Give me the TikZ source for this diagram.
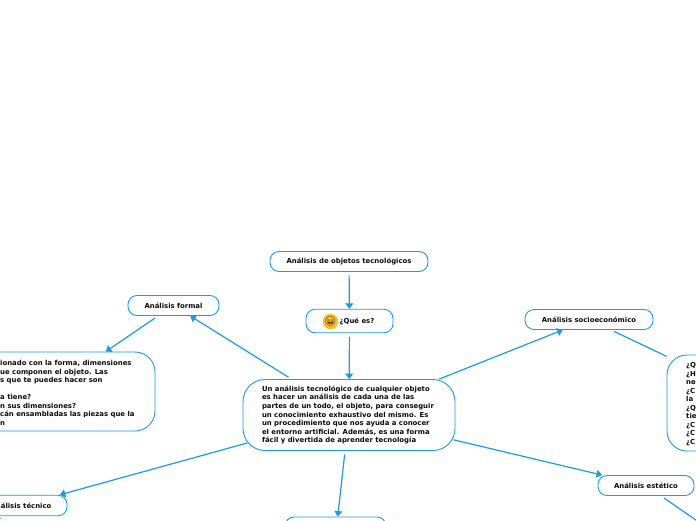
\documentclass[tikz,border=0pt]{standalone}
\usepackage{fontspec}
\setmainfont{DejaVu Sans}
\newfontfamily\emojifont{Noto Emoji}
\usetikzlibrary{arrows.meta}
\definecolor{mapblue}{HTML}{1C9BE2}
\definecolor{maptext}{HTML}{0A0A0A}
\definecolor{emojiyellow}{HTML}{FBBF2D}
\tikzset{
  x=1pt,y=-1pt,
  mapbox/.style={draw=mapblue,line width=0.9pt,fill=white,rounded corners=#1,inner sep=0pt,text=maptext,font=\fontsize{6.9}{8.5}\selectfont\bfseries,align=center},
  mapbox/.default=9pt,
  maptxt/.style={inner sep=0pt,text=maptext,font=\fontsize{6.9}{8.5}\selectfont\bfseries,align=left},
  link/.style={draw=mapblue,line width=1.2pt,shorten <=3.5pt,-{Triangle[length=5.5pt,width=8pt]}},
  plainlink/.style={draw=mapblue,line width=1.2pt,shorten <=3.5pt}
}
\begin{document}
\begin{tikzpicture}
\useasboundingbox (0,0) rectangle (696,520);
\clip (0,0) rectangle (696,520);
\fill[white] (0,0) rectangle (696,520);
\node[mapbox,minimum width=158pt,minimum height=20pt] (top) at (349,261.5) {Análisis de objetos tecnológicos};
\node[mapbox,minimum width=87pt,minimum height=23.5pt] (que) at (349.5,321) {\hspace*{15pt}¿Qué es?};
\node[circle,fill=emojiyellow,inner sep=0pt,minimum size=12pt,text=maptext,font=\emojifont\fontsize{9.5}{9.5}\selectfont] (emo) at (330.5,321.5) {😆};
\node[mapbox=22pt,minimum width=212pt,minimum height=71pt,align=left] (main) at (349,415) {\parbox{174pt}{\raggedright\baselineskip=8.6pt Un análisis tecnológico de cualquier objeto\\ es hacer un análisis de cada una de las\\ partes de un todo, el objeto, para conseguir\\ un conocimiento exhaustivo del mismo. Es\\ un procedimiento que nos ayuda a conocer\\ el entorno artificial. Además, es una forma\\ fácil y divertida de aprender tecnología}};
\node[mapbox,minimum width=91pt,minimum height=20pt] (formal) at (173.5,305.5) {Análisis formal};
\node[mapbox=20pt,minimum width=216pt,minimum height=79pt] (formald) at (47,391.5) {};
\node[maptxt,anchor=west] (formalt) at (0,392.8) {ionado con la forma, dimensiones\\ue componen el objeto. Las\\s que te puedes hacer son\\ \\a tiene?\\n sus dimensiones?\\cán ensambladas las piezas que la\\n};
\node[mapbox,minimum width=92pt,minimum height=20.5pt] (tecnico) at (21,505.5) {Análisis técnico};
\node[mapbox,minimum width=128pt,minimum height=20pt] (socio) at (589,319.5) {Análisis socioeconómico};
\node[mapbox=20pt,minimum width=196pt,minimum height=96pt] (sociod) at (765,403) {};
\node[maptxt,anchor=west] (sociot) at (686,404) {¿Q\\¿H\\ne\\¿C\\la\\¿Q\\tie\\¿C\\¿C\\¿C};
\node[mapbox,minimum width=96pt,minimum height=20pt] (estetico) at (646,485.5) {Análisis estético};
\node[mapbox,minimum width=101pt,minimum height=40pt] (bottom) at (335.5,537) {};
\coordinate (esteticoend) at (800,592);
\coordinate (tecnicoend) at (-40,543);
\draw[link] (top) -- (que);
\draw[link] (que) -- (main);
\draw[link] (main) -- (formal);
\draw[link,shorten <=0pt] (main) -- (socio);
\draw[link,shorten <=-2pt] (main) -- (estetico);
\draw[link,shorten <=-5pt] (main) -- (tecnico);
\draw[link] (main) -- (bottom);
\draw[link] (formal) -- (formald);
\draw[plainlink] (socio) -- (sociod);
\draw[plainlink] (estetico) -- (esteticoend);
\draw[plainlink] (tecnico) -- (tecnicoend);
\end{tikzpicture}
\end{document}
